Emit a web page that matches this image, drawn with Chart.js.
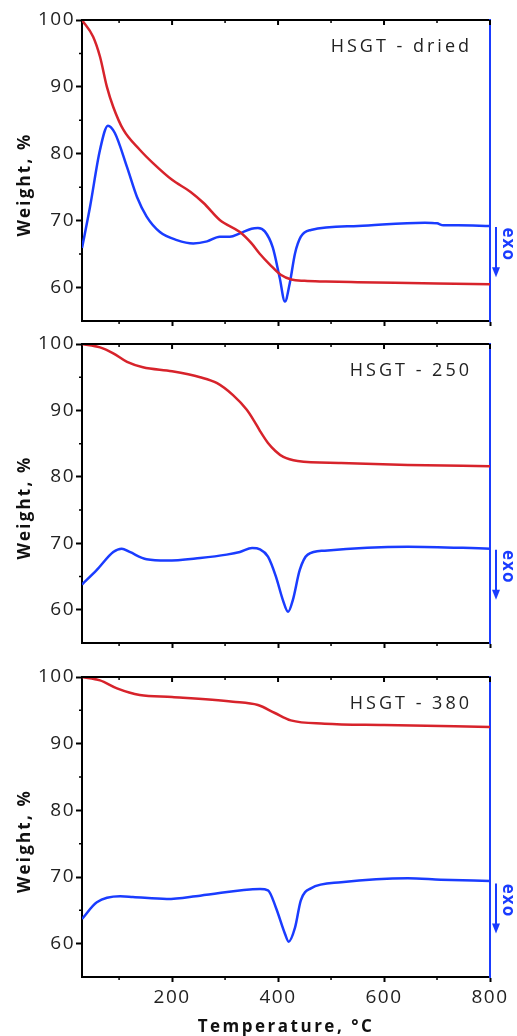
<!DOCTYPE html>
<html>
<head>
<meta charset="utf-8">
<script src="https://cdn.jsdelivr.net/npm/chart.js"></script>
<style>
  body { margin: 0; background: #fff; }
  #wrap { position: relative; width: 517px; height: 1036px; }
  canvas { position: absolute; left: 0; }
</style>
</head>
<body>
<div id="wrap">
  <canvas id="c1" width="517" height="345" style="top:0"></canvas>
  <canvas id="c2" width="517" height="345" style="top:320px"></canvas>
  <canvas id="c3" width="517" height="383" style="top:653px"></canvas>
</div>
<script>
// axis ticks
const xMajor = [200, 400, 600, 800];
const xMinor = [100, 300, 500, 700];
const yMajor = [60, 70, 80, 90, 100];
const yMinor = [65, 75, 85, 95];

// HSGT - dried
const tgT1 = [30, 51, 64, 77, 89, 108, 139, 164, 200, 235, 260, 290, 328, 350, 365, 385, 405, 425, 450, 490, 550, 620, 700, 800];
const tgW1 = [100, 97.5, 94.5, 90, 87, 83.6, 80.6, 78.6, 76.1, 74.3, 72.6, 70.1, 68.3, 66.6, 65.1, 63.4, 61.9, 61.2, 61.0, 60.9, 60.8, 60.7, 60.6, 60.5];
const dtaT1 = [30, 45, 64, 79, 92, 115, 134, 152, 177, 209, 240, 266, 290, 309, 328, 350, 362, 375, 390, 403, 413, 422, 432, 443, 462, 551, 677, 700, 712, 740, 800];
const dtaV1 = [65.9, 72.0, 80.6, 84.2, 83.1, 78, 73.5, 70.6, 68.3, 67.1, 66.6, 66.9, 67.6, 67.6, 68.1, 68.8, 68.9, 68.4, 66.0, 61.5, 57.9, 60.6, 65.1, 67.6, 68.6, 69.2, 69.7, 69.6, 69.3, 69.3, 69.2];

// HSGT - 250
const tgT2 = [30, 64, 89, 115, 145, 200, 253, 285, 315, 341, 355, 366, 381, 395, 410, 437, 519, 645, 800];
const tgW2 = [100, 99.5, 98.6, 97.3, 96.5, 95.9, 95.0, 94.1, 92.3, 90.1, 88.4, 86.9, 85.1, 83.9, 83.0, 82.4, 82.1, 81.8, 81.6];
const dtaT2 = [30, 58, 89, 105, 120, 152, 190, 253, 303, 328, 351, 366, 381, 396, 409, 419, 428, 441, 456, 488, 645, 800];
const dtaV2 = [63.8, 66.0, 68.7, 69.2, 68.7, 67.6, 67.4, 67.8, 68.3, 68.7, 69.3, 69.1, 68.0, 65.0, 61.5, 59.7, 61.5, 66.0, 68.3, 68.9, 69.5, 69.2];

// HSGT - 380
const tgT3 = [30, 64, 96, 139, 200, 315, 362, 394, 424, 488, 600, 800];
const tgW3 = [100, 99.5, 98.3, 97.3, 97.0, 96.3, 95.8, 94.6, 93.5, 93.0, 92.8, 92.5];
const dtaT3 = [30, 58, 102, 126, 190, 253, 366, 381, 396, 413, 420, 432, 443, 462, 519, 645, 707, 800];
const dtaV3 = [63.7, 66.2, 67.1, 67.0, 66.7, 67.2, 68.2, 68.0, 65.4, 61.5, 60.3, 62.4, 66.5, 68.3, 69.2, 69.8, 69.6, 69.4];

const RED = '#d7232b';
const BLUE = '#1a3cff';
const FONT = '"Open Sans", "DejaVu Sans", sans-serif';

const pts = (xs, ys) => xs.map((x, i) => ({x, y: ys[i]}));

// frame, minor ticks, panel label, rotated titles and the exo arrow
const decor = {
  id: 'decor',
  beforeDraw(chart) {
    chart.ctx.letterSpacing = '1.5px';
  },
  afterDraw(chart, args, opts) {
    const {ctx, chartArea: a, scales} = chart;
    const h = a.bottom - a.top;
    ctx.save();
    ctx.strokeStyle = '#000';
    ctx.lineWidth = 2;
    ctx.beginPath();
    ctx.moveTo(a.left - 1, a.top);
    ctx.lineTo(a.right - 1, a.top);
    xMajor.forEach(t => {
      const px = scales.x.getPixelForValue(t);
      ctx.moveTo(px, a.top);
      ctx.lineTo(px, a.top + 5);
    });
    ctx.stroke();

    ctx.lineWidth = 1.5;
    ctx.beginPath();
    xMinor.forEach(t => {
      const px = scales.x.getPixelForValue(t);
      ctx.moveTo(px, a.top);
      ctx.lineTo(px, a.top + 3);
      ctx.moveTo(px, a.bottom);
      ctx.lineTo(px, a.bottom + 3);
    });
    yMinor.forEach(v => {
      const py = scales.y.getPixelForValue(v);
      ctx.moveTo(a.left, py);
      ctx.lineTo(a.left - 3, py);
    });
    ctx.stroke();

    // sample name
    ctx.fillStyle = '#222';
    ctx.letterSpacing = '3px';
    ctx.font = '18px ' + FONT;
    ctx.textAlign = 'right';
    ctx.textBaseline = 'middle';
    ctx.fillText(opts.label, a.right - 18, a.top + 27);

    // y title
    ctx.save();
    ctx.translate(25, (a.top + a.bottom) / 2 + 14);
    ctx.rotate(-Math.PI / 2);
    ctx.letterSpacing = '2.2px';
    ctx.font = 'bold 17px ' + FONT;
    ctx.textAlign = 'center';
    ctx.fillStyle = '#111';
    ctx.fillText('Weight, %', 0, 0);
    ctx.restore();

    // exo marker on the right
    ctx.save();
    ctx.translate(a.right + 18, a.top + 0.745 * h);
    ctx.rotate(Math.PI / 2);
    ctx.letterSpacing = '1px';
    ctx.font = 'bold 17px ' + FONT;
    ctx.textAlign = 'center';
    ctx.fillStyle = BLUE;
    ctx.fillText('exo', 0, 0);
    ctx.restore();

    const ax = a.right + 6;
    const y0 = a.top + 0.688 * h, y1 = a.top + 0.855 * h;
    ctx.strokeStyle = BLUE;
    ctx.fillStyle = BLUE;
    ctx.lineWidth = 2;
    ctx.beginPath();
    ctx.moveTo(ax, y0);
    ctx.lineTo(ax, y1 - 8);
    ctx.stroke();
    ctx.beginPath();
    ctx.moveTo(ax - 4, y1 - 10);
    ctx.lineTo(ax + 4, y1 - 10);
    ctx.lineTo(ax, y1);
    ctx.closePath();
    ctx.fill();

    if (opts.xTitle) {
      ctx.letterSpacing = '2.5px';
      ctx.font = 'bold 17px ' + FONT;
      ctx.textAlign = 'center';
      ctx.fillStyle = '#111';
      ctx.fillText(opts.xTitle, (a.left + a.right) / 2, a.bottom + 50);
    }
    ctx.restore();
  }
};

function makePanel(id, label, tg, dta, topPad, bottomH, showX) {
  return new Chart(document.getElementById(id), {
    type: 'line',
    data: {
      datasets: [
        {data: tg, borderColor: RED, borderWidth: 2.5, yAxisID: 'y'},
        {data: dta, borderColor: BLUE, borderWidth: 2.5, yAxisID: 'y2'}
      ]
    },
    options: {
      responsive: false,
      animation: false,
      layout: {padding: {top: topPad, left: 0, right: 0, bottom: 0}},
      elements: {
        point: {radius: 0},
        line: {cubicInterpolationMode: 'monotone', fill: false}
      },
      plugins: {
        legend: {display: false},
        tooltip: {enabled: false},
        decor: {label, xTitle: showX ? 'Temperature, °C' : null}
      },
      scales: {
        x: {
          type: 'linear',
          position: 'bottom',
          min: 30,
          max: 800,
          afterBuildTicks: s => { s.ticks = xMajor.map(v => ({value: v})); },
          afterFit: s => { s.height = bottomH; },
          grid: {drawOnChartArea: false, tickLength: 5, tickColor: '#000', tickWidth: 2},
          border: {color: '#000', width: 2},
          ticks: {
            display: showX,
            padding: 4,
            maxRotation: 0,
            autoSkip: false,
            color: '#222',
            font: {family: FONT, size: 19}
          }
        },
        y: {
          position: 'left',
          min: 55,
          max: 100,
          afterBuildTicks: s => { s.ticks = yMajor.map(v => ({value: v})); },
          afterFit: s => { s.width = 82; },
          grid: {drawOnChartArea: false, tickLength: 6, tickColor: '#000', tickWidth: 2},
          border: {color: '#000', width: 2},
          ticks: {padding: 1, color: '#222', font: {family: FONT, size: 19}}
        },
        y2: {
          position: 'right',
          min: 55,
          max: 100,
          afterFit: s => { s.width = 27; },
          grid: {display: false},
          border: {color: BLUE, width: 2},
          ticks: {display: false}
        }
      }
    },
    plugins: [decor]
  });
}

makePanel('c1', 'HSGT - dried', pts(tgT1, tgW1), pts(dtaT1, dtaV1), 20, 24, false);
makePanel('c2', 'HSGT - 250', pts(tgT2, tgW2), pts(dtaT2, dtaV2), 24, 22, false);
makePanel('c3', 'HSGT - 380', pts(tgT3, tgW3), pts(dtaT3, dtaV3), 24, 59, true);
</script>
</body>
</html>
